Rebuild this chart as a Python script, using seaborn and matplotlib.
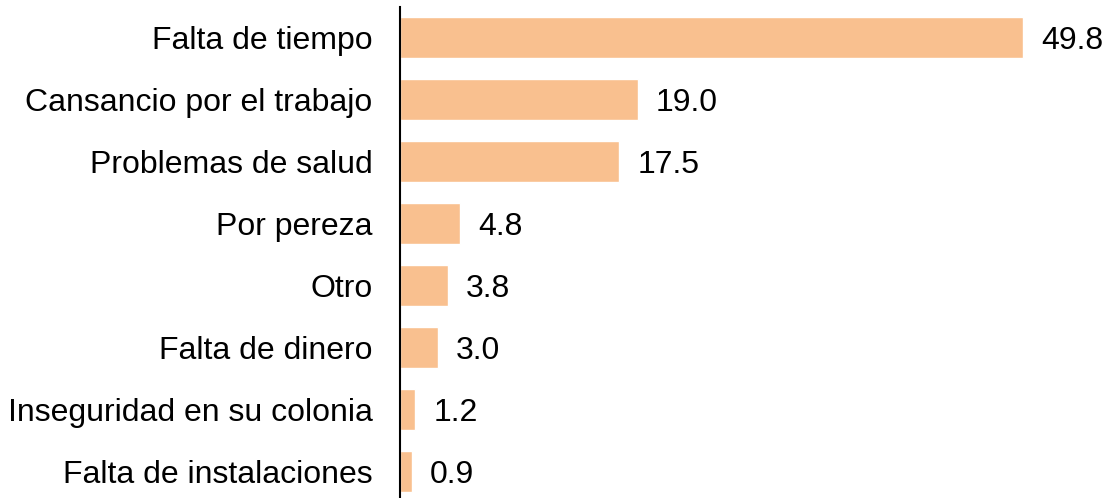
import seaborn as sns
import pandas as pd
import matplotlib.pyplot as plt

motivos = ["Falta de tiempo", "Cansancio por el trabajo", "Problemas de salud",
           "Por pereza", "Otro", "Falta de dinero",
           "Inseguridad en su colonia", "Falta de instalaciones"]
porcentajes = [49.8, 19.0, 17.5, 4.8, 3.8, 3.0, 1.2, 0.9]

df = pd.DataFrame({"motivo": motivos, "porcentaje": porcentajes})

sns.set_style("white")
plt.rcParams['font.family'] = ['Liberation Sans', 'DejaVu Sans']

fig = plt.figure(figsize=(11.04, 4.98), dpi=100)
ax = fig.add_axes([400.5 / 1104, 0, 1 - 400.5 / 1104, 1 - 7 / 498])

sns.barplot(data=df, x="porcentaje", y="motivo", orient="h",
            color="#F9C08F", saturation=1, width=0.66, ax=ax)

etiquetas = ax.bar_label(ax.containers[0], labels=[f"{v:.1f}" for v in porcentajes],
                         padding=13, fontsize=23, color="black")
for t in etiquetas:
    t.set_va("center_baseline")

ax.set_xlim(0, 703.5 / 12.5)
ax.set_ylim(7.43, -0.49)
ax.set_xlabel("")
ax.set_ylabel("")
ax.set_xticks([])
ax.tick_params(axis="y", length=0, pad=20, labelsize=23, labelcolor="black")
for s in ["top", "right", "bottom"]:
    ax.spines[s].set_visible(False)
ax.spines["left"].set_color("black")
ax.spines["left"].set_linewidth(1.5)

plt.savefig("out.png", dpi=100)
